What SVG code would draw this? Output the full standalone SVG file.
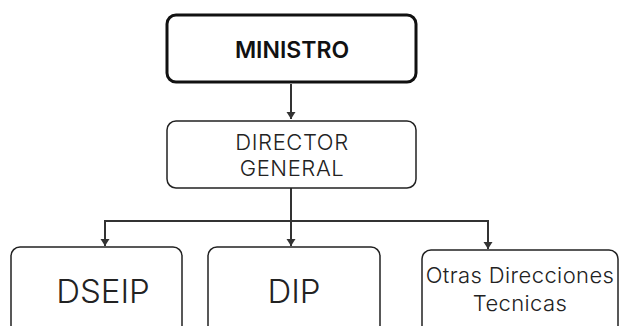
<svg xmlns="http://www.w3.org/2000/svg" width="622" height="326" viewBox="0 0 622 326">
<style>
.box{fill:#fff;stroke:#222;stroke-width:1.5}
.main{fill:#fff;stroke:#111;stroke-width:3}
.t{font-family:Inter,"Liberation Sans",sans-serif;font-weight:300;fill:#222;text-anchor:middle}
.b{font-family:Inter,"Liberation Sans",sans-serif;font-weight:600;fill:#111;text-anchor:middle}
.c{fill:none;stroke:#333;stroke-width:2}
</style>
<defs>
<marker id="ah" markerWidth="10" markerHeight="10" refX="8" refY="5" orient="auto" markerUnits="userSpaceOnUse" viewBox="0 0 10 10">
<path d="M1,0.5 L8,5 L1,9.5 Z" fill="#333"/>
</marker>
</defs>
<rect width="622" height="326" fill="#fff"/>
<g id="connectors">
<path class="c" d="M291,84 V119" marker-end="url(#ah)"/>
<path class="c" d="M291,188 V221"/>
<path class="c" d="M105,221 H488"/>
<path class="c" d="M105,220 V246" marker-end="url(#ah)"/>
<path class="c" d="M291,221 V246" marker-end="url(#ah)"/>
<path class="c" d="M488,220 V249" marker-end="url(#ah)"/>
</g>
<g id="ministro">
<rect class="main" x="167" y="15" width="249" height="67" rx="9"/>
<text class="b" x="292" y="58" font-size="23">MINISTRO</text>
</g>
<g id="director">
<rect class="box" x="167" y="121" width="249" height="67" rx="9"/>
<text class="t" x="292" y="150" font-size="22" letter-spacing="0.6">DIRECTOR</text>
<text class="t" x="292" y="176" font-size="22" letter-spacing="0.6">GENERAL</text>
</g>
<g id="dseip">
<rect class="box" x="11" y="247" width="171" height="90" rx="9"/>
<text class="t" x="103" y="303" font-size="33">DSEIP</text>
</g>
<g id="dip">
<rect class="box" x="208" y="247" width="172" height="90" rx="9"/>
<text class="t" x="294" y="303" font-size="33">DIP</text>
</g>
<g id="otras">
<rect class="box" x="422" y="250" width="196" height="87" rx="9"/>
<text class="t" x="520" y="283" font-size="22" letter-spacing="0.4">Otras Direcciones</text>
<text class="t" x="520" y="311" font-size="22" letter-spacing="0.4">Tecnicas</text>
</g>
</svg>
